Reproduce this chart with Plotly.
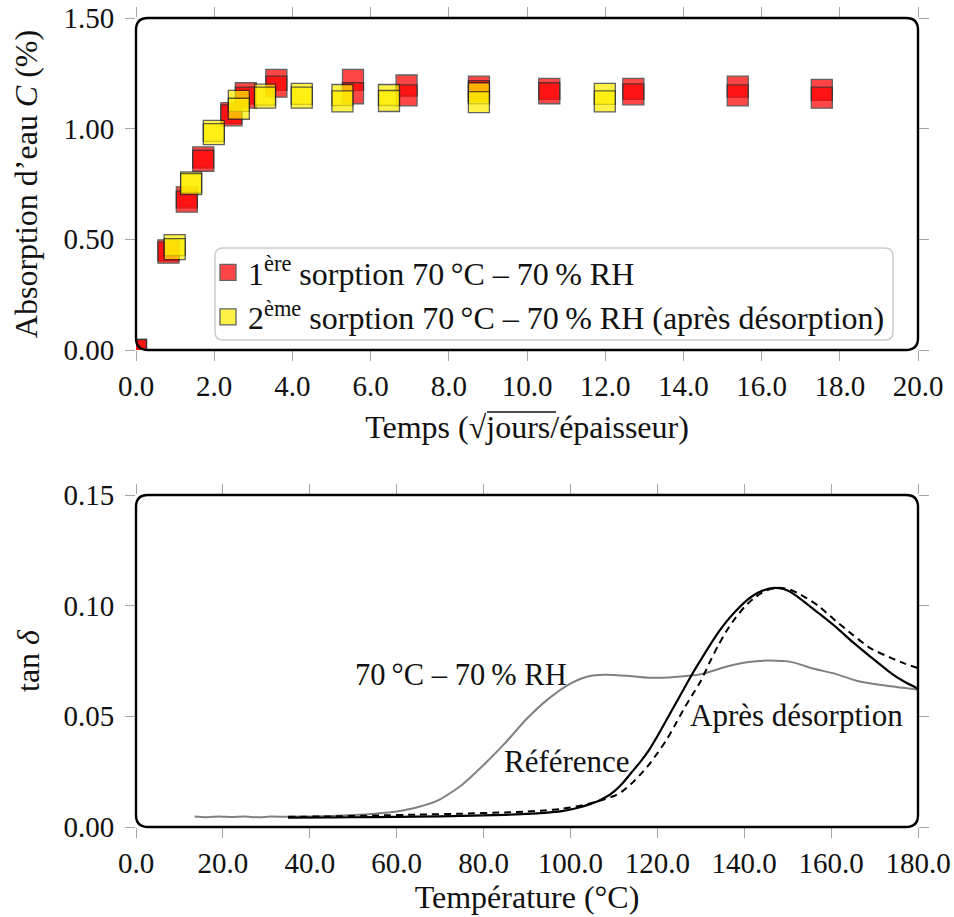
import plotly.graph_objects as go

# ---------------- data: water uptake ----------------
red_x = [0.0, 0.83, 1.30, 1.72, 2.44, 2.81, 3.59, 5.55, 6.92, 8.77, 10.57, 12.72, 15.39, 17.54]
red_y_a = [0.0, 0.450, 0.690, 0.870, 1.070, 1.160, 1.220, 1.220, 1.195, 1.190, 1.180, 1.180, 1.190, 1.175]
red_y_b = [0.0, 0.440, 0.670, 0.855, 1.060, 1.140, 1.190, 1.160, 1.150, 1.170, 1.160, 1.155, 1.150, 1.140]

yel_x = [0.99, 1.41, 1.99, 2.63, 3.30, 4.24, 5.28, 6.47, 8.77, 11.99]
yel_y_a = [0.474, 0.757, 0.990, 1.126, 1.154, 1.157, 1.152, 1.152, 1.160, 1.157]
yel_y_b = [0.456, 0.750, 0.975, 1.090, 1.140, 1.140, 1.123, 1.125, 1.120, 1.123]

# ---------------- data: tan delta ----------------
hum_T = [13.5, 16, 19, 22, 25, 28, 31, 35, 40, 45, 50, 55, 60, 65, 70, 75, 80, 85, 90, 95,
         100, 104, 108, 113, 118, 124, 130, 136, 141, 146, 151, 156, 161, 166, 172, 180]
hum_v = [0.0047, 0.0044, 0.0048, 0.0045, 0.0047, 0.0044, 0.0047, 0.0046, 0.0048, 0.0050,
         0.0054, 0.0060, 0.0070, 0.0090, 0.0125, 0.0190, 0.0280, 0.0380, 0.0490, 0.0580,
         0.0648, 0.0680, 0.0688, 0.0683, 0.0674, 0.0678, 0.0690, 0.0725, 0.0745, 0.0752,
         0.0745, 0.0715, 0.0692, 0.0660, 0.0640, 0.0620]

ref_T = [35, 45, 55, 65, 75, 85, 90, 94, 98, 100, 102, 104, 106, 108, 110, 112, 114, 116,
         118, 120, 122, 124, 126, 128, 130, 132, 134, 136, 138, 140, 142, 144, 146, 148,
         150, 153, 157, 161, 165, 169, 174, 177, 180]
ref_v = [0.0042, 0.0043, 0.0045, 0.0047, 0.0050, 0.0055, 0.0059, 0.0064, 0.0072, 0.0079,
         0.0088, 0.0100, 0.0114, 0.0133, 0.0160, 0.0198, 0.0245, 0.0292, 0.0345, 0.0410,
         0.0480, 0.0550, 0.0620, 0.0690, 0.0755, 0.0818, 0.0878, 0.0930, 0.0975, 0.1014,
         0.1045, 0.1066, 0.1078, 0.1079, 0.1068, 0.1030, 0.0968, 0.0905, 0.0835, 0.0770,
         0.0692, 0.0655, 0.0625]

des_T = [35, 45, 55, 65, 75, 85, 90, 94, 98, 100, 102, 104, 106, 108, 110, 112, 114, 116,
         118, 120, 122, 124, 126, 128, 130, 132, 134, 136, 138, 140, 142, 144, 146, 148,
         150, 153, 157, 161, 165, 169, 174, 177, 180]
des_v = [0.0046, 0.0048, 0.0052, 0.0056, 0.0060, 0.0066, 0.0070, 0.0075, 0.0082, 0.0088,
         0.0095, 0.0104, 0.0115, 0.0126, 0.0140, 0.0162, 0.0195, 0.0235, 0.0280, 0.0333,
         0.0390, 0.0458, 0.0530, 0.0595, 0.0660, 0.0742, 0.0820, 0.0888, 0.0945, 0.0993,
         0.1030, 0.1058, 0.1075, 0.1081, 0.1076, 0.1050, 0.1000, 0.0932, 0.0868, 0.0808,
         0.0762, 0.0738, 0.0718]

FONT = "Liberation Serif"
TICK_SIZE = 29
TEXT_SIZE = 32
W, H = 954, 917
ML, MR, MT, MB = 136, 36, 18, 90
PW, PH = W - ML - MR, H - MT - MB


def px2paper_y(py):
    return (H - MB - py) / PH


def px2paper_x(px):
    return (px - ML) / PW


top_dom = [px2paper_y(350), 1.0]
bot_dom = [0.0, px2paper_y(495)]

fig = go.Figure()

fig.add_trace(go.Scatter(
    x=red_x + red_x, y=red_y_a + red_y_b, mode="markers", legendgroup="a",
    name="1<sup>ère</sup> sorption 70\u2009°C – 70\u2009% RH",
    marker=dict(symbol="square", size=21, color="rgb(255,0,0)", opacity=0.72,
                line=dict(color="#262626", width=1.3)),
    xaxis="x", yaxis="y"))
fig.add_trace(go.Scatter(
    x=yel_x + yel_x, y=yel_y_a + yel_y_b, mode="markers", legendgroup="b",
    name="2<sup>ème</sup> sorption 70\u2009°C – 70\u2009% RH (après désorption)",
    marker=dict(symbol="square", size=21, color="rgb(255,238,0)", opacity=0.72,
                line=dict(color="#262626", width=1.3)),
    xaxis="x", yaxis="y"))

fig.add_trace(go.Scatter(x=hum_T, y=hum_v, mode="lines", showlegend=False,
                         line=dict(color="#808080", width=2, shape="spline", smoothing=0.6),
                         xaxis="x2", yaxis="y2"))
fig.add_trace(go.Scatter(x=des_T, y=des_v, mode="lines", showlegend=False,
                         line=dict(color="black", width=2, dash="7px,5px", shape="spline", smoothing=0.6),
                         xaxis="x2", yaxis="y2"))
fig.add_trace(go.Scatter(x=ref_T, y=ref_v, mode="lines", showlegend=False,
                         line=dict(color="black", width=2.2, shape="spline", smoothing=0.6),
                         xaxis="x2", yaxis="y2"))

tick_common = dict(ticks="outside", ticklen=10, tickwidth=1.2, tickcolor="#a6a6a6",
                   mirror="ticks", showline=True, linecolor="rgba(0,0,0,0)", linewidth=1,
                   showgrid=False, zeroline=False, automargin=False,
                   ticklabeloverflow="allow",
                   tickfont=dict(family=FONT, size=TICK_SIZE, color="#111"))
title_font = dict(family=FONT, size=TEXT_SIZE, color="#111")

fig.update_layout(
    width=W, height=H, autosize=False,
    margin=dict(l=ML, r=MR, t=MT, b=MB),
    paper_bgcolor="white", plot_bgcolor="white",
    font=dict(family=FONT, size=TEXT_SIZE, color="#111"),
    xaxis=dict(domain=[0, 1], anchor="y", range=[0, 20], dtick=2, tick0=0, tickformat=".1f",
               title=dict(text="Temps (√jours/épaisseur)", font=title_font, standoff=14),
               **tick_common),
    yaxis=dict(domain=top_dom, anchor="x", range=[0, 1.5], dtick=0.5, tick0=0, tickformat=".2f",
               ticklabelstandoff=5,
               title=dict(text="Absorption d’eau <i>C</i> (%)", font=title_font, standoff=16),
               **tick_common),
    xaxis2=dict(domain=[0, 1], anchor="y2", range=[0, 180], dtick=20, tick0=0, tickformat=".1f",
                title=dict(text="Température (°C)", font=title_font, standoff=4),
                **tick_common),
    yaxis2=dict(domain=bot_dom, anchor="x2", range=[0, 0.15], dtick=0.05, tick0=0, tickformat=".2f",
                ticklabelstandoff=5,
                title=dict(text="tan <i>δ</i>", font=title_font, standoff=14),
                **tick_common),
    legend=dict(x=px2paper_x(208), y=px2paper_y(245), xanchor="left", yanchor="top",
                bgcolor="rgba(255,255,255,0)", borderwidth=0,
                font=dict(family=FONT, size=TEXT_SIZE, color="#111"),
                itemsizing="trace", tracegroupgap=0),
)


def rounded(x0, y0, x1, y1, rpx):
    rx = rpx / PW
    ry = rpx / PH
    return (f"M{x0 + rx},{y0} L{x1 - rx},{y0} Q{x1},{y0} {x1},{y0 + ry} "
            f"L{x1},{y1 - ry} Q{x1},{y1} {x1 - rx},{y1} L{x0 + rx},{y1} "
            f"Q{x0},{y1} {x0},{y1 - ry} L{x0},{y0 + ry} Q{x0},{y0} {x0 + rx},{y0} Z")


shapes = []
# legend box
shapes.append(dict(type="path", xref="paper", yref="paper", layer="above",
                   path=rounded(px2paper_x(215), px2paper_y(340), px2paper_x(893), px2paper_y(248), 8),
                   line=dict(color="#cccccc", width=1.5), fillcolor="rgba(255,255,255,0.85)"))
# frames
for dom in (top_dom, bot_dom):
    shapes.append(dict(type="path", xref="paper", yref="paper", layer="above",
                       path=rounded(0, dom[0], 1, dom[1], 12),
                       line=dict(color="black", width=2.4), fillcolor="rgba(0,0,0,0)"))
# vinculum of the square root in the x title
shapes.append(dict(type="line", xref="paper", yref="paper",
                   x0=px2paper_x(487), x1=px2paper_x(556), y0=px2paper_y(412), y1=px2paper_y(412),
                   line=dict(color="#111", width=1.3)))
fig.update_layout(shapes=shapes)

ann_font = dict(family=FONT, size=31, color="#111")
fig.add_annotation(x=74.7, y=0.0687, xref="x2", yref="y2", text="70\u2009°C – 70\u2009% RH",
                   showarrow=False, font=dict(family=FONT, size=30.5, color="#111"))
fig.add_annotation(x=99.1, y=0.0294, xref="x2", yref="y2", text="Référence",
                   showarrow=False, font=ann_font)
fig.add_annotation(x=152.1, y=0.0502, xref="x2", yref="y2", text="Après désorption",
                   showarrow=False, font=ann_font)

fig.write_html("out.html", config={"displayModeBar": False},
               post_script="document.body.style.margin='0';document.body.style.overflow='hidden';")
